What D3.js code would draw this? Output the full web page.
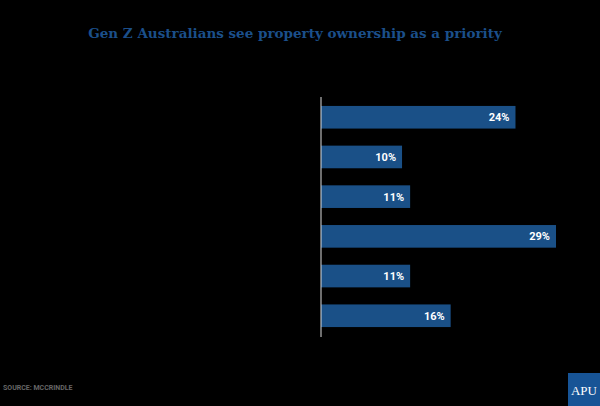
<!DOCTYPE html>
<html><head><meta charset="utf-8">
<script src="https://cdn.jsdelivr.net/npm/d3@7"></script>
<style>body{margin:0;background:#000}</style>
</head><body><div id="chart"></div>
<script>
// Category labels are not legible in the reference (dark on dark)
const categories = ["A", "B", "C", "D", "E", "F"];
const values = [24, 10, 11, 29, 11, 16];

const width = 600, height = 406;
const svg = d3.select("#chart").append("svg").attr("width", width).attr("height", height);
svg.append("rect").attr("width", width).attr("height", height).attr("fill", "#000");

svg.append("text").attr("x", 295).attr("y", 38).attr("text-anchor", "middle")
  .style("font-family", "'DejaVu Serif', serif").style("font-weight", "bold")
  .style("font-size", "13.5px").attr("fill", "#1b4f8a")
  .text("Gen Z Australians see property ownership as a priority");

const x = d3.scaleLinear().domain([0, 29]).range([321, 556]);
const y = d3.scaleBand().domain(categories).range([98, 335]).paddingInner(0.43).paddingOuter(0.2);

svg.selectAll("rect.bar").data(values).enter().append("rect").attr("class", "bar")
  .attr("x", x(0)).attr("y", (d, i) => y(categories[i]))
  .attr("width", d => x(d) - x(0)).attr("height", y.bandwidth())
  .attr("fill", "#1a5087");

svg.selectAll("text.val").data(values).enter().append("text").attr("class", "val")
  .attr("x", d => x(d) - 6).attr("y", (d, i) => y(categories[i]) + y.bandwidth() / 2 + 4)
  .attr("text-anchor", "end").attr("fill", "#fff")
  .style("font-family", "Roboto, sans-serif").style("font-weight", "bold").style("font-size", "11px")
  .text(d => d + "%");

svg.append("line").attr("x1", 321).attr("x2", 321).attr("y1", 97).attr("y2", 337)
  .attr("stroke", "#ddd").attr("stroke-width", 1);

svg.append("text").attr("x", 3).attr("y", 390)
  .style("font-family", "Roboto, sans-serif").style("font-weight", "bold").style("font-size", "7px")
  .attr("fill", "#666").text("SOURCE: MCCRINDLE");

svg.append("rect").attr("x", 568).attr("y", 373).attr("width", 32).attr("height", 33).attr("fill", "#175496");
svg.append("text").attr("x", 584).attr("y", 395).attr("text-anchor", "middle").attr("fill", "#fff")
  .style("font-family", "'Liberation Serif', serif").style("font-size", "13px").text("APU");
</script></body></html>
